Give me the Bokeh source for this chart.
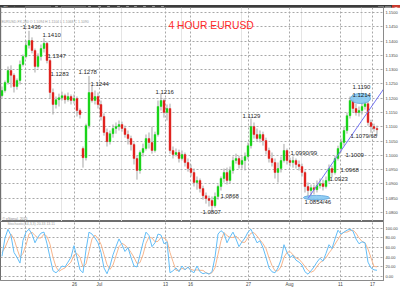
from bokeh.plotting import figure
from bokeh.layouts import column
from bokeh.models import (Range1d, FixedTicker, NumeralTickFormatter, Label, Div,
                          ColumnDataSource, Grid)
from bokeh.embed import file_html
from bokeh.resources import INLINE
from bokeh.core.properties import value

# ---------------- data (4 hour EURUSD, mid-June to mid-August 2015) ----------------
opens = [1.1209, 1.1227, 1.1255, 1.1297, 1.1280, 1.1241, 1.1262, 1.1318, 1.1346, 1.1385,
         1.1402, 1.1367, 1.1311, 1.1346, 1.1374, 1.1392, 1.1332, 1.1220, 1.1178, 1.1195,
         1.1202, 1.1209, 1.1195, 1.1206, 1.1192, 1.1199, 1.1157, 1.1024, 1.0992, 1.1104,
         1.1220, 1.1192, 1.1206, 1.1178, 1.1136, 1.1080, 1.1048, 1.1076, 1.1094, 1.1101,
         1.1108, 1.1094, 1.1073, 1.1059, 1.1038, 1.0989, 1.0947, 1.1010, 1.1024, 1.1059,
         1.1045, 1.1017, 1.1073, 1.1171, 1.1192, 1.1150, 1.1164, 1.1017, 1.1003, 1.1010,
         1.0989, 1.1003, 1.0975, 1.0954, 1.0940, 1.0905, 1.0912, 1.0884, 1.0859, 1.0849,
         1.0842, 1.0824, 1.0856, 1.0891, 1.0919, 1.0940, 1.0912, 1.0947, 1.0982, 1.0989,
         1.0968, 1.0982, 1.0996, 1.1034, 1.1101, 1.1073, 1.1059, 1.1073, 1.1052, 1.1017,
         1.0989, 1.0975, 1.0940, 1.0954, 1.0982, 1.1017, 1.0982, 1.0975, 1.0982, 1.0968,
         1.0961, 1.0940, 1.0891, 1.0877, 1.0887, 1.0880, 1.0894, 1.0901, 1.0891, 1.0912,
         1.0954, 1.0940, 1.0989, 1.1024, 1.1045, 1.1087, 1.1139, 1.1192, 1.1164, 1.1150,
         1.1157, 1.1171, 1.1181, 1.1115, 1.1101, 1.1094]
highs = [1.1241, 1.1262, 1.1311, 1.1315, 1.1287, 1.1269, 1.1332, 1.1353, 1.1402, 1.1436,
         1.1413, 1.1374, 1.1357, 1.1388, 1.1410, 1.1398, 1.1339, 1.1234, 1.1206, 1.1216,
         1.1223, 1.1216, 1.1220, 1.1213, 1.1213, 1.1206, 1.1164, 1.1031, 1.1111, 1.1278,
         1.1244, 1.1227, 1.1220, 1.1192, 1.1147, 1.1094, 1.1087, 1.1108, 1.1115, 1.1122,
         1.1118, 1.1104, 1.1087, 1.1069, 1.1045, 1.0999, 1.1017, 1.1041, 1.1073, 1.1080,
         1.1101, 1.1083, 1.1192, 1.1216, 1.1199, 1.1178, 1.1181, 1.1031, 1.1024, 1.1020,
         1.1017, 1.1010, 1.0989, 1.0968, 1.0954, 1.0926, 1.0919, 1.0894, 1.0870, 1.0859,
         1.0856, 1.0870, 1.0898, 1.0926, 1.0954, 1.0957, 1.0961, 1.0996, 1.1006, 1.0999,
         1.0996, 1.1010, 1.1045, 1.1129, 1.1115, 1.1094, 1.1087, 1.1083, 1.1062, 1.1027,
         1.1010, 1.0989, 1.0975, 1.0996, 1.1040, 1.1024, 1.0992, 1.0996, 1.0989, 1.0982,
         1.0971, 1.0947, 1.0905, 1.0898, 1.0898, 1.0912, 1.0919, 1.0915, 1.0926, 1.0968,
         1.0964, 1.0999, 1.1034, 1.1059, 1.1101, 1.1150, 1.1206, 1.1214, 1.1181, 1.1171,
         1.1185, 1.1190, 1.1188, 1.1125, 1.1111, 1.1104]
lows = [1.1202, 1.1220, 1.1248, 1.1237, 1.1220, 1.1230, 1.1248, 1.1311, 1.1339, 1.1374,
        1.1357, 1.1290, 1.1304, 1.1332, 1.1360, 1.1322, 1.1199, 1.1143, 1.1164, 1.1171,
        1.1192, 1.1181, 1.1188, 1.1178, 1.1181, 1.1136, 1.1129, 1.0957, 1.0982, 1.1094,
        1.1185, 1.1178, 1.1164, 1.1122, 1.1069, 1.1031, 1.1038, 1.1062, 1.1076, 1.1087,
        1.1083, 1.1062, 1.1038, 1.1017, 1.0968, 1.0915, 1.0936, 1.0996, 1.1017, 1.1024,
        1.1006, 1.1010, 1.1066, 1.1157, 1.1132, 1.1122, 1.1006, 1.0989, 1.0996, 1.0975,
        1.0982, 1.0961, 1.0943, 1.0926, 1.0891, 1.0880, 1.0870, 1.0845, 1.0831, 1.0821,
        1.0807, 1.0817, 1.0845, 1.0877, 1.0905, 1.0898, 1.0901, 1.0936, 1.0971, 1.0954,
        1.0954, 1.0947, 1.0985, 1.1024, 1.1059, 1.1048, 1.1045, 1.1034, 1.1003, 1.0975,
        1.0961, 1.0919, 1.0905, 1.0940, 1.0975, 1.0968, 1.0961, 1.0957, 1.0954, 1.0947,
        1.0926, 1.0870, 1.0852, 1.0846, 1.0863, 1.0870, 1.0884, 1.0877, 1.0884, 1.0905,
        1.0923, 1.0933, 1.0982, 1.1010, 1.1034, 1.1076, 1.1129, 1.1150, 1.1139, 1.1136,
        1.1143, 1.1160, 1.1104, 1.1079, 1.1083, 1.1068]
closes = [1.1227, 1.1255, 1.1297, 1.1280, 1.1241, 1.1262, 1.1318, 1.1346, 1.1385, 1.1402,
          1.1367, 1.1311, 1.1346, 1.1374, 1.1392, 1.1332, 1.1220, 1.1178, 1.1195, 1.1202,
          1.1209, 1.1195, 1.1206, 1.1192, 1.1199, 1.1157, 1.1143, 1.0992, 1.1104, 1.1220,
          1.1192, 1.1206, 1.1178, 1.1136, 1.1080, 1.1048, 1.1076, 1.1094, 1.1101, 1.1108,
          1.1094, 1.1073, 1.1059, 1.1038, 1.0989, 1.0947, 1.1010, 1.1024, 1.1059, 1.1045,
          1.1017, 1.1073, 1.1171, 1.1192, 1.1150, 1.1164, 1.1017, 1.1003, 1.1010, 1.0989,
          1.1003, 1.0975, 1.0954, 1.0940, 1.0905, 1.0912, 1.0884, 1.0859, 1.0849, 1.0842,
          1.0824, 1.0856, 1.0891, 1.0919, 1.0940, 1.0912, 1.0947, 1.0982, 1.0989, 1.0968,
          1.0982, 1.0996, 1.1034, 1.1101, 1.1073, 1.1059, 1.1073, 1.1052, 1.1017, 1.0989,
          1.0975, 1.0940, 1.0954, 1.0982, 1.1017, 1.0982, 1.0975, 1.0982, 1.0968, 1.0961,
          1.0940, 1.0891, 1.0877, 1.0887, 1.0880, 1.0894, 1.0901, 1.0891, 1.0912, 1.0954,
          1.0940, 1.0989, 1.1024, 1.1045, 1.1087, 1.1139, 1.1192, 1.1164, 1.1150, 1.1157,
          1.1171, 1.1181, 1.1115, 1.1101, 1.1094, 1.1090]

stoch_k = [42, 80, 98, 85, 50, 40, 28, 75, 92, 98, 88, 70, 82, 90, 92, 68, 40, 12, 8, 14,
           22, 20, 30, 40, 64, 40, 14, 8, 55, 92, 88, 80, 70, 50, 18, 6, 22, 45, 62, 78,
           66, 52, 60, 40, 22, 20, 45, 70, 92, 85, 62, 70, 88, 86, 68, 72, 8, 12, 18, 10,
           22, 14, 20, 12, 8, 22, 10, 6, 8, 5, 10, 40, 88, 95, 90, 70, 82, 92, 78, 62,
           72, 80, 92, 98, 84, 70, 74, 60, 40, 18, 10, 8, 18, 35, 66, 50, 40, 44, 34, 30,
           24, 10, 5, 12, 20, 30, 38, 32, 48, 66, 58, 78, 96, 88, 92, 96, 98, 94, 78, 68,
           72, 70, 30, 18, 14, 13.11]
stoch_d = [50, 60, 75, 88, 78, 58, 40, 48, 65, 88, 92, 85, 80, 80, 88, 83, 67, 40, 20, 11,
           15, 18, 24, 30, 45, 48, 40, 20, 26, 52, 78, 86, 79, 67, 46, 25, 15, 24, 43, 62,
           69, 65, 59, 50, 40, 27, 29, 45, 69, 82, 80, 72, 73, 81, 80, 75, 50, 31, 13, 13,
           17, 15, 19, 15, 13, 14, 13, 13, 8, 6, 8, 18, 46, 74, 91, 85, 81, 81, 84, 77,
           71, 71, 81, 90, 91, 84, 76, 68, 58, 39, 23, 12, 12, 20, 40, 50, 52, 45, 39, 36,
           29, 21, 13, 9, 12, 21, 29, 33, 39, 49, 57, 67, 77, 87, 92, 92, 95, 96, 90, 80,
           73, 70, 57, 39, 21, 20.33]

price_ticks = [1.0800, 1.0850, 1.0900, 1.0950, 1.1000, 1.1050, 1.1100, 1.1150,
               1.1200, 1.1250, 1.1300, 1.1350, 1.1400, 1.1450, 1.1500]
stoch_ticks = [0, 20, 40, 60, 80, 100]
date_tick_pos = [7.8, 24.2, 32.5, 54.5, 62.8, 82.2, 95.8, 112.8, 123.5]
date_tick_labels = ["", "26", "Jul", "13", "16", "27", "Aug", "11", "17"]

# level notes written on the chart: text, candle it belongs to, price
note_texts = ["1.1436", "1.1410", "1.1347", "1.1283", "1.1278", "1.1244", "1.1216",
              "1.1129", "1.0990/99", "1.1009", "1.0968", "1.0923", "1.0854/46",
              "1.0868", "1.0807", "1.1079/68", "1.1190", "1.1214"]
note_candles = [7, 13, 15, 16, 25, 29, 51, 80, 96, 114, 113, 109, 101, 73, 67, 116, 117, 117]
note_prices = [1.1436, 1.1410, 1.1347, 1.1283, 1.1278, 1.1244, 1.1216, 1.1129, 1.0990,
               1.1009, 1.0968, 1.0923, 1.0854, 1.0868, 1.0807, 1.1079, 1.1190, 1.1214]

# highlighted zones (double top / double bottom) and rising trend line
zone_candles = [119.5, 104.8]
zone_prices = [1.1199, 1.0852]
trend_candles = [102, 127.2]
trend_prices = [1.0849, 1.1232]

# ---------------- styles ----------------
note_dx = [-0.5, 1.5, 0.5, 0.5, 1.5, 1.5, 0.5, 0.5, 0.5, 1.5, -0.5, 0.5, -0.5, -0.5, -0.5, 0.5, -0.5, -0.5]
note_dy = [4, 3, 0, 0.5, 3.5, 2, 2, 3, 5, -2.5, -5, -2, -4.5, -2.5, -1, -3, 13.7, -1]
FONT = "Liberation Sans"
W = 400
X_RANGE = (-0.5, 127.1667)

# ---------------- toolbar ----------------
icon = ('<span style="position:absolute;left:{x}px;top:1px;width:5px;height:5px;'
        'border-radius:50%;border:1px solid #bbb;box-sizing:border-box;"></span>')
bar_html = (
    '<div style="position:relative;width:400px;height:7px;background:#3c3c3c;overflow:hidden;'
    'font-family:\'Liberation Sans\',sans-serif;color:#d0d0d0;">'
    '<span style="position:absolute;left:3px;top:0px;font-size:5px;line-height:7px;">Chart</span>'
    '<span style="position:absolute;left:25px;top:1px;width:26px;height:5px;background:#1c1c1c;'
    'border:1px solid #6a6a6a;box-sizing:border-box;font-size:3px;line-height:4px;'
    'white-space:nowrap;">&nbsp;EURUSD-FX</span>'
    + icon.format(x=54) +
    '<span style="position:absolute;left:61px;top:1px;width:25px;height:5px;background:#1c1c1c;'
    'border:1px solid #6a6a6a;box-sizing:border-box;font-size:3px;line-height:4px;'
    'white-space:nowrap;">&nbsp;240</span>'
    + "".join(icon.format(x=x) for x in (87, 97, 106, 116, 125, 133, 142, 151, 160)) +
    '<span style="position:absolute;left:378px;top:1px;width:6px;height:5px;background:#777;"></span>'
    '<span style="position:absolute;left:385px;top:1px;width:6px;height:5px;background:#777;"></span>'
    '<span style="position:absolute;left:392px;top:0px;width:8px;height:7px;background:#c8382c;'
    'color:#fff;font-size:5px;line-height:7px;text-align:center;">&#10005;</span>'
    '</div>')
bar = Div(text=bar_html, width=W, height=7, margin=(0, 0, 0, 0))

# ---------------- main candle panel ----------------
p = figure(width=W, height=214, output_backend="svg", toolbar_location=None,
           x_range=Range1d(*X_RANGE), y_range=Range1d(1.07685, 1.15175),
           x_axis_location=None, y_axis_location="right",
           min_border_left=0, min_border_top=0, min_border_bottom=0, min_border_right=17,
           background_fill_color="white", border_fill_color="white",
           outline_line_color="#6e6e6e", outline_line_width=1)
p.yaxis.ticker = FixedTicker(ticks=price_ticks)
p.yaxis.formatter = NumeralTickFormatter(format="0.0000")
p.yaxis.major_label_text_font_size = "4px"
p.yaxis.major_label_text_font = FONT
p.yaxis.major_label_text_color = "#444444"
p.yaxis.major_tick_out = 0
p.yaxis.major_tick_in = 0
p.yaxis.minor_tick_out = 0
p.yaxis.minor_tick_in = 0
p.yaxis.major_label_standoff = 2
p.yaxis.axis_line_color = "#8a8a8a"
p.ygrid.grid_line_color = "#a8a8a8"
p.ygrid.grid_line_dash = "2 2"
p.add_layout(Grid(dimension=0, ticker=FixedTicker(ticks=date_tick_pos),
                  grid_line_color="#a8a8a8", grid_line_dash="2 2"))

idx = list(range(len(closes)))
up = [c >= o for o, c in zip(opens, closes)]
src = ColumnDataSource(dict(
    x=idx, high=highs, low=lows,
    top=[max(o, c) for o, c in zip(opens, closes)],
    bottom=[min(o, c) for o, c in zip(opens, closes)],
    color=["#19d419" if u else "#e0231f" for u in up]))
p.segment(x0="x", y0="high", x1="x", y1="low", source=src, line_color="#a6a6a6", line_width=1)
p.vbar(x="x", width=0.66, top="top", bottom="bottom", source=src,
       fill_color="color", line_color="color", line_width=0.4)

# highlighted zones and trend line
p.ellipse(x=zone_candles, y=zone_prices, width=[20, 26], height=[10, 4.5],
          width_units="screen", height_units="screen",
          fill_color="#86c9f2", fill_alpha=0.9, line_color="#5aa3dc", line_width=0.8)
p.line(x=trend_candles, y=trend_prices, line_color="#7373f2", line_width=1)

nsrc = ColumnDataSource(dict(x=note_candles, y=note_prices, text=note_texts,
                             dx=[d * 1.0 for d in note_dx], dy=[-d for d in note_dy]))
p.text(x="x", y="y", text="text", x_offset="dx", y_offset="dy", source=nsrc,
       text_font=value(FONT), text_font_size="6px", text_color="#1e1e1e",
       text_align="left", text_baseline="middle")

p.add_layout(Label(x=168, y=196, x_units="screen", y_units="screen", text="4 HOUR EURUSD",
                   text_font=FONT, text_font_size="10.3px", text_color="#ff2a2a",
                   text_baseline="middle", text_align="left"))
p.add_layout(Label(x=1, y=200, x_units="screen", y_units="screen",
                   text="EURUSD-FX,240  O 1.1094  H 1.1104  L 1.1068  C 1.1090",
                   text_font=FONT, text_font_size="3.5px", text_color="#9a9a9a",
                   text_baseline="middle", text_align="left"))
p.add_layout(Label(x=2, y=3, x_units="screen", y_units="screen", text="\u00a9 eSignal, 2015",
                   text_font=FONT, text_font_size="3.5px", text_color="#8a8a8a",
                   text_baseline="middle", text_align="left"))
# last price marker and highlighted scale value
p.add_layout(Label(x=idx[-1], y=closes[-1], x_offset=7, text="%.4f" % closes[-1],
                   text_font=FONT, text_font_size="4px", text_color="white",
                   background_fill_color="#e8211a", text_baseline="middle", text_align="left",
                   padding=1))
p.add_layout(Label(x=idx[-1], y=price_ticks[-2], x_offset=7, text="%.4f" % price_ticks[-2],
                   text_font=FONT, text_font_size="4px", text_color="white",
                   background_fill_color="#6a6a6a", text_baseline="middle", text_align="left",
                   padding=1))

# ---------------- stochastic panel ----------------
p2 = figure(width=W, height=68, output_backend="svg", toolbar_location=None,
            x_range=Range1d(*X_RANGE), y_range=Range1d(-8, 114),
            x_axis_location="below", y_axis_location="right",
            min_border_left=0, min_border_top=0, min_border_bottom=0, min_border_right=17,
            background_fill_color="white", border_fill_color="white",
            outline_line_color="#6e6e6e", outline_line_width=1)
p2.yaxis.ticker = FixedTicker(ticks=stoch_ticks)
p2.yaxis.formatter = NumeralTickFormatter(format="0.00")
p2.yaxis.major_label_text_font_size = "4px"
p2.yaxis.major_label_text_font = FONT
p2.yaxis.major_label_text_color = "#444444"
p2.yaxis.major_tick_out = 0
p2.yaxis.major_tick_in = 0
p2.yaxis.minor_tick_out = 0
p2.yaxis.minor_tick_in = 0
p2.yaxis.major_label_standoff = 2
p2.yaxis.axis_line_color = "#8a8a8a"
p2.xaxis.ticker = FixedTicker(ticks=date_tick_pos)
p2.xaxis.major_label_overrides = {t: l for t, l in zip(date_tick_pos, date_tick_labels)}
p2.xaxis.major_label_text_font_size = "4.5px"
p2.xaxis.major_label_text_font = FONT
p2.xaxis.major_label_text_color = "#444444"
p2.xaxis.major_tick_out = 0
p2.xaxis.major_tick_in = 0
p2.xaxis.minor_tick_out = 0
p2.xaxis.minor_tick_in = 0
p2.xaxis.major_label_standoff = 1
p2.xaxis.axis_line_color = "#8a8a8a"
p2.grid.grid_line_color = "#a8a8a8"
p2.grid.grid_line_dash = "2 2"

p2.line(x=idx, y=stoch_d, line_color="#f6b58c", line_width=1)
p2.line(x=idx, y=stoch_k, line_color="#62bdf7", line_width=1)

p2.add_layout(Label(x=7, y=57, x_units="screen", y_units="screen",
                    text="Stochastic(14,3,3)  %.2f  %.2f" % (stoch_d[-1], stoch_k[-1]),
                    text_font=FONT, text_font_size="3.5px", text_color="#9a9a9a",
                    text_baseline="middle", text_align="left"))
p2.add_layout(Label(x=idx[-1], y=stoch_d[-1], x_offset=7, text="%.2f" % stoch_d[-1],
                    text_font=FONT, text_font_size="4px", text_color="white",
                    background_fill_color="#f07a1e", text_baseline="middle", text_align="left",
                    padding=1))
p2.add_layout(Label(x=idx[-1], y=stoch_k[-1], x_offset=7, y_offset=-3, text="%.2f" % stoch_k[-1],
                    text_font=FONT, text_font_size="4px", text_color="white",
                    background_fill_color="#2f9bf0", text_baseline="middle", text_align="left",
                    padding=1))
p2.add_layout(Label(x=200, y=-1.5, x_units="screen", y_units="screen", text="2015-07-20 16:00",
                    text_font=FONT, text_font_size="3.5px", text_color="#222222",
                    background_fill_color="#d9d9d9", border_line_color="#888888",
                    text_baseline="top", text_align="left", padding=1))

layout = column(bar, p, p2, spacing=0)
open("out.html", "w").write(file_html(layout, INLINE))
